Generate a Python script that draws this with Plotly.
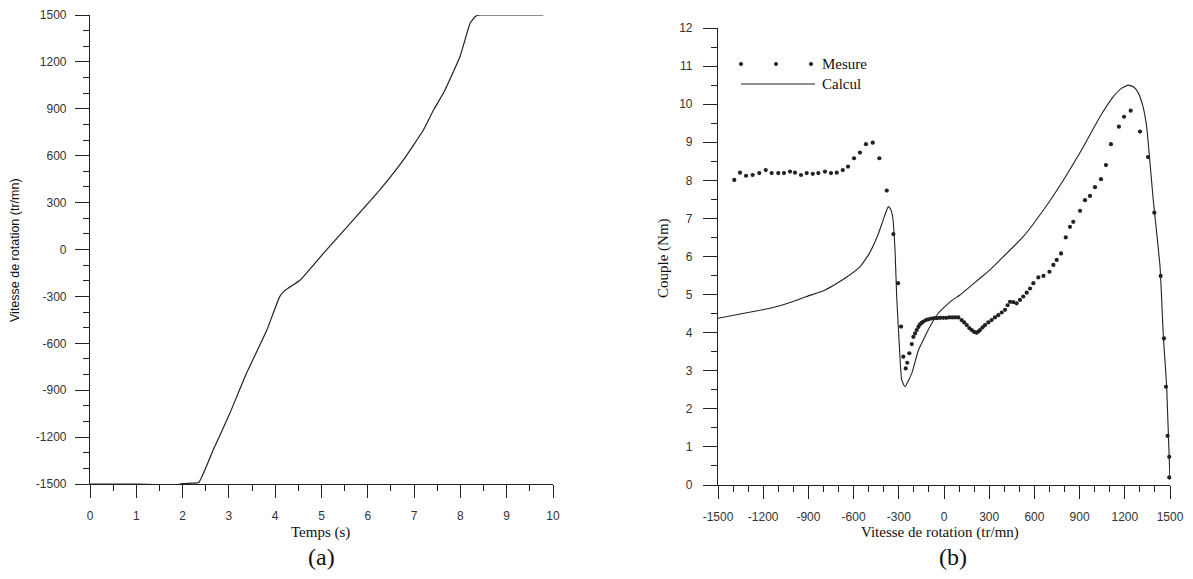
import plotly.graph_objects as go

# ---- (a) speed vs time ----
temps = [0, 0.5, 1.0, 1.5, 1.8, 2.0, 2.2, 2.35, 2.66, 3.02, 3.38, 3.82, 4.1, 4.2,
         4.54, 5.04, 5.62, 6.26, 6.77, 7.20, 7.42, 7.63, 7.99, 8.21, 8.32, 8.42, 9.0, 9.79]
vitesse = [-1500, -1500, -1500, -1505, -1508, -1498, -1495, -1490, -1283, -1048, -792, -515,
           -300, -265, -195, -25, 167, 381, 573, 764, 892, 999, 1233, 1447, 1490, 1500, 1500, 1500]

# ---- (b) torque vs speed ----
calc_x = [-1500, -1300, -1155, -1000, -911, -800, -735, -650, -558, -500, -440, -400, -380,
          -370, -355, -341, -325, -314, -296, -281, -259, -214, -170, -93, -38, 40, 106, 173,
          239, 305, 372, 526, 660, 793, 925, 1035, 1124, 1180, 1223, 1260, 1290, 1320, 1345,
          1389, 1434, 1456, 1478, 1500]
calc_y = [4.38, 4.53, 4.64, 4.82, 4.95, 5.10, 5.24, 5.45, 5.73, 6.05, 6.55, 7.00, 7.22,
          7.31, 7.25, 7.05, 6.17, 4.95, 3.63, 2.76, 2.58, 2.93, 3.54, 4.16, 4.51, 4.81, 4.99,
          5.21, 5.43, 5.65, 5.91, 6.52, 7.22, 8.01, 8.88, 9.67, 10.2, 10.42, 10.5, 10.45,
          10.29, 9.95, 9.41, 7.48, 5.73, 3.89, 2.58, 0.13]

mes_x = [-1392, -1354, -1314, -1270, -1226, -1183, -1144, -1100, -1062, -1022, -989, -949,
         -911, -871, -834, -790, -750, -712, -672, -637, -597, -558, -518, -473, -429, -380,
         -336, -305, -285, -270, -254, -244, -230, -214, -203, -192, -181, -170, -159, -148,
         -137, -120, -104, -85, -65, -45, -25, -5, 15, 35, 55, 75, 95, 117, 134, 151, 168,
         184, 200, 217, 228, 239, 256, 272, 294, 316, 338, 360, 383, 405, 422, 438, 460, 482,
         504, 526, 549, 571, 593, 626, 660, 700, 726, 748, 777, 808, 836, 858, 903, 936, 969,
         1002, 1042, 1075, 1108, 1161, 1195, 1239, 1301, 1354, 1396, 1438, 1460, 1473, 1484,
         1495, 1495]
mes_y = [8.01, 8.20, 8.12, 8.14, 8.19, 8.27, 8.19, 8.19, 8.19, 8.23, 8.20, 8.14,
         8.19, 8.17, 8.19, 8.23, 8.19, 8.20, 8.27, 8.36, 8.58, 8.73, 8.95, 8.99, 8.58, 7.73,
         6.59, 5.30, 4.16, 3.37, 3.06, 3.21, 3.46, 3.70, 3.89, 3.98, 4.07, 4.15, 4.22, 4.26,
         4.29, 4.33, 4.35, 4.37, 4.38, 4.38, 4.39, 4.39, 4.39, 4.40, 4.40, 4.40, 4.40, 4.33,
         4.27, 4.20, 4.12, 4.07, 4.02, 4.00, 4.03, 4.07, 4.14, 4.20, 4.27, 4.33, 4.40, 4.46,
         4.53, 4.60, 4.72, 4.81, 4.80, 4.77, 4.86, 4.95, 5.05, 5.16, 5.30, 5.45, 5.49, 5.60,
         5.78, 5.91, 6.08, 6.50, 6.78, 6.91, 7.20, 7.48, 7.59, 7.82, 8.03, 8.40, 8.95, 9.41,
         9.67, 9.83, 9.28, 8.61, 7.15, 5.49, 3.85, 2.58, 1.29, 0.74, 0.20]

# tick labels
xa_ticks = list(range(0, 11))
ya_ticks = list(range(-1500, 1501, 300))
xb_ticks = list(range(-1500, 1501, 300))
yb_ticks = list(range(0, 13))

INK = "#222222"
SANS = "Liberation Sans, Arial, sans-serif"
SERIF = "Liberation Serif, Times New Roman, serif"

# page has an 8px body margin: figure sits at (8, 8)
OFF = 8
W, H = 1193 - 2 * OFF, 579 - 2 * OFF


def fx(x):
    return (x - OFF) / W


def fy(y):
    return 1 - (y - OFF) / H


fig = go.Figure()
fig.add_trace(go.Scatter(x=temps, y=vitesse, mode="lines",
                         line=dict(color=INK, width=1.2, shape="spline", smoothing=0.4),
                         xaxis="x", yaxis="y", cliponaxis=False, showlegend=False))
fig.add_trace(go.Scatter(x=calc_x, y=calc_y, mode="lines",
                         line=dict(color=INK, width=1.1, shape="spline", smoothing=0.4),
                         xaxis="x2", yaxis="y2", cliponaxis=False, showlegend=False, name="Calcul"))
fig.add_trace(go.Scatter(x=mes_x, y=mes_y, mode="markers",
                         marker=dict(color=INK, size=4.2, line=dict(width=0)),
                         xaxis="x2", yaxis="y2", cliponaxis=False, showlegend=False, name="Mesure"))


def ax(vals, rng, minor, domain, anchor, length, standoff):
    return dict(
        domain=domain, anchor=anchor, range=rng, tickmode="array", tickvals=vals,
        ticktext=[str(v) for v in vals], showline=True, linecolor=INK, linewidth=1.2,
        ticks="outside", ticklen=length, tickwidth=1.2, tickcolor=INK,
        minor=dict(ticks="outside", ticklen=6, tickwidth=1, tickcolor=INK, dtick=minor,
                   tick0=rng[0]),
        showgrid=False, zeroline=False, ticklabelstandoff=standoff, automargin=False,
        tickfont=dict(family=SANS, size=12, color="#333333"),
    )


fig.update_layout(
    width=W, height=H, margin=dict(l=0, r=0, t=0, b=0, autoexpand=False),
    paper_bgcolor="white", plot_bgcolor="white",
    xaxis=ax(xa_ticks, [0, 10], 0.5, [fx(90), fx(553)], "y", 13, 7),
    yaxis=ax(ya_ticks, [-1500, 1500], 100, [fy(484), fy(15)], "x", 14, 6),
    xaxis2=ax(xb_ticks, [-1500, 1500], 100, [fx(718), fx(1170)], "y2", 13, 7),
    yaxis2=ax(yb_ticks, [0, 12], 0.5, [fy(485), fy(28)], "x2", 14, 8),
)


def ann(text, x, y, size, family, angle=0, xanchor="center"):
    fig.add_annotation(text=text, x=fx(x), y=fy(y), xref="paper", yref="paper",
                       showarrow=False, textangle=angle, xanchor=xanchor, yanchor="middle",
                       font=dict(family=family, size=size, color="#111111"))


ann("Temps (s)", 320, 532, 15, SERIF)
ann("(a)", 321, 557, 24, SERIF)
ann("Vitesse de rotation (tr/mn)", 15, 250, 12.5, SANS, angle=-90)
ann("Vitesse de rotation (tr/mn)", 940, 532, 15, SERIF)
ann("(b)", 953, 557, 24, SERIF)
ann("Couple (Nm)", 663, 258, 15, SERIF, angle=-90)

# legend (drawn manually)
for px in (741, 776, 811):
    fig.add_shape(type="circle", xref="paper", yref="paper",
                  x0=fx(px - 2), x1=fx(px + 2), y0=fy(66), y1=fy(62),
                  fillcolor=INK, line=dict(width=0))
fig.add_shape(type="line", xref="paper", yref="paper", x0=fx(741), x1=fx(815),
              y0=fy(84), y1=fy(84), line=dict(color=INK, width=1.1))
ann("Mesure", 820, 64, 15, SERIF, xanchor="left")
ann("Calcul", 820, 84, 15, SERIF, xanchor="left")

fig.write_html("out.html")
